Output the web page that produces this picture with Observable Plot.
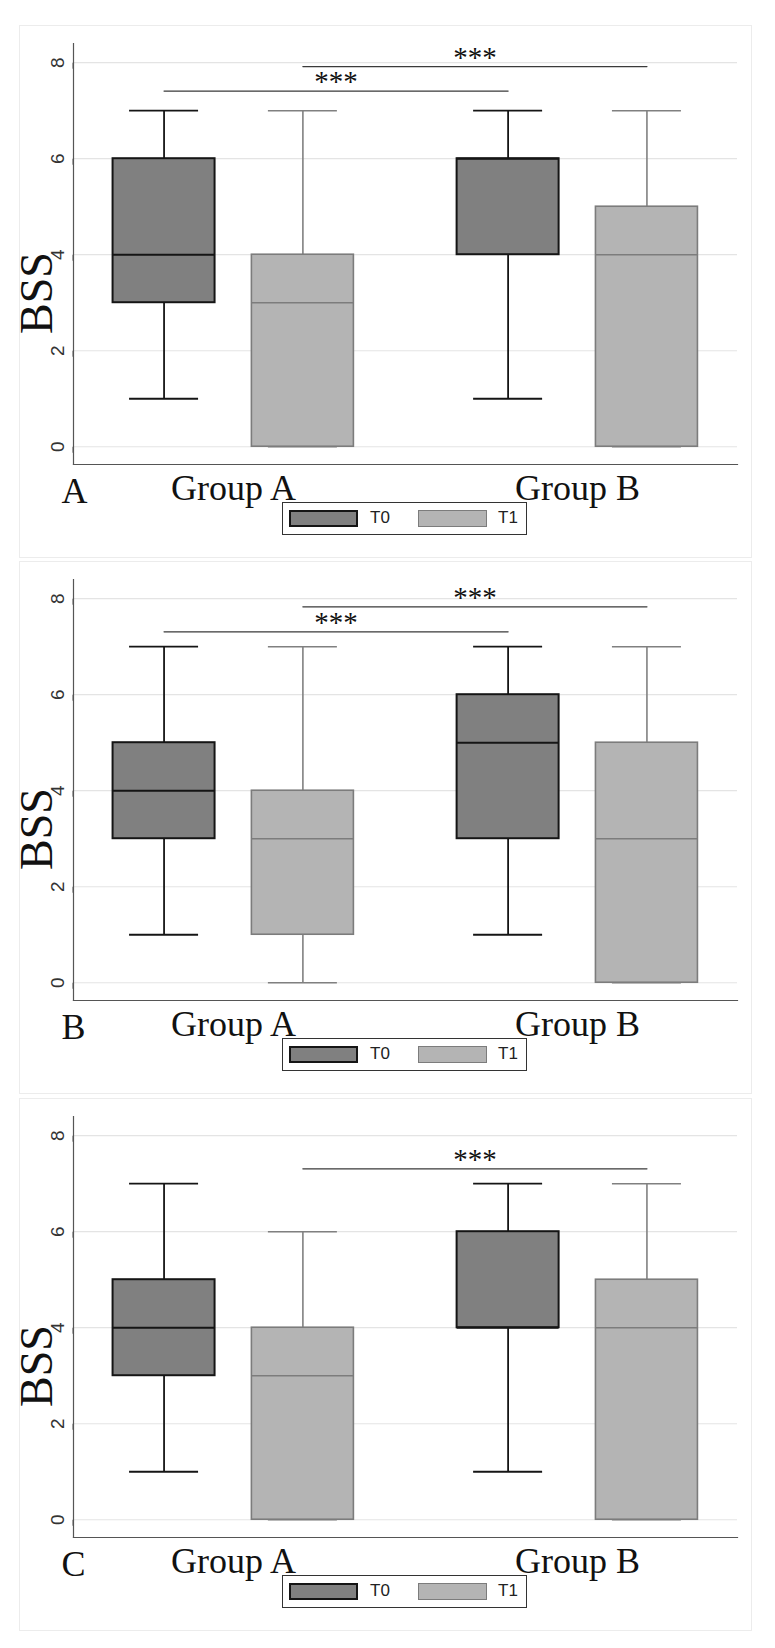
<!DOCTYPE html>
<html>
<head>
<meta charset="utf-8">
<script src="https://cdn.jsdelivr.net/npm/d3@7"></script>
<script src="https://cdn.jsdelivr.net/npm/@observablehq/plot@0.6"></script>
<style>
  body { margin: 0; background: #fff; }
  #page { position: relative; width: 775px; height: 1648px; overflow: hidden; }
  .panel { position: absolute; left: 0; width: 775px; height: 537px; }
  .panel svg { position: absolute; left: 0; top: 0; }
  .frame { position: absolute; left: 19px; top: 25px; width: 733px; height: 533px; border: 1.5px solid #ececec; box-sizing: border-box; }
  .ytitle { position: absolute; left: 37px; top: 293px; transform: translate(-50%, -50%) rotate(-90deg);
            font-family: "Liberation Serif", "Times New Roman", serif; font-size: 46px; line-height: 46px; color: #111; white-space: nowrap; }
  .legend { position: absolute; left: 282px; top: 502px; width: 245px; height: 33px; border: 1px solid #333; background: #fff; box-sizing: border-box;
            font-family: "Liberation Sans", Arial, sans-serif; font-size: 17px; color: #222; }
  .legend .sw { position: absolute; top: 7px; width: 69px; height: 17px; box-sizing: border-box; }
  .legend .lb { position: absolute; top: 5px; line-height: 20px; }
</style>
</head>
<body>
<div id="page"></div>
<script>
// ---------- data ----------
const panelLabels = ["A", "B", "C"];
const groups = ["Group A", "Group B"];
const times = ["T0", "T1"];
const yTicks = [0, 2, 4, 6, 8];
const yTitle = "BSS";
// order within each panel: Group A T0, Group A T1, Group B T0, Group B T1
const whiskerLow  = { A: [1, 0, 1, 0], B: [1, 0, 1, 0], C: [1, 0, 1, 0] };
const quartile1   = { A: [3, 0, 4, 0], B: [3, 1, 3, 0], C: [3, 0, 4, 0] };
const medians     = { A: [4, 3, 6, 4], B: [4, 3, 5, 3], C: [4, 3, 4, 4] };
const quartile3   = { A: [6, 4, 6, 5], B: [5, 4, 6, 5], C: [5, 4, 6, 5] };
const whiskerHigh = { A: [7, 7, 7, 7], B: [7, 7, 7, 7], C: [7, 6, 7, 7] };
// significance brackets: which time series they join across groups, and their height
const bracketTime = { A: ["T0", "T1"], B: ["T0", "T1"], C: ["T1"] };
const bracketY    = { A: [7.41, 7.92], B: [7.31, 7.83], C: [7.31] };
const bracketText = "***";

// ---------- layout ----------
const W = 775, H = 537;
const mLeft = 73, mRight = 38, mTop = 43, mBottom = 73;
const padInner = 0.3, padOuter = 0.115;
const step = (W - mLeft - mRight) / (groups.length - padInner + 2 * padOuter);
const bw = step * (1 - padInner);
const boxW = 102, capW = 69;
const boxInset = bw - boxW;
const half = bw / 2 - boxW / 2;
const panelTops = [0, 536.4, 1073];

const sty = {
  T0: { fill: "#808080", box: "#151515", boxW: 2, line: "#151515", lineW: 1.8, med: "#151515", medW: 2, dx: -half,
        insetL: 0, insetR: boxInset, capL: boxW / 2 - capW / 2, capR: bw - boxW / 2 - capW / 2 },
  T1: { fill: "#b4b4b4", box: "#7c7c7c", boxW: 1.6, line: "#808080", lineW: 1.6, med: "#7c7c7c", medW: 1.6, dx: half,
        insetL: boxInset, insetR: 0, capL: bw - boxW / 2 - capW / 2, capR: boxW / 2 - capW / 2 }
};

function rowsFor(p) {
  const rows = [];
  groups.forEach((g, gi) => times.forEach((t, ti) => {
    const k = gi * times.length + ti;
    rows.push({ group: g, time: t, low: whiskerLow[p][k], q1: quartile1[p][k], med: medians[p][k], q3: quartile3[p][k], high: whiskerHigh[p][k] });
  }));
  return rows;
}

function makePanel(p) {
  const rows = rowsFor(p);
  const marks = [
    Plot.gridY(yTicks, { stroke: "#e4e4e4", strokeOpacity: 1, strokeWidth: 1.2 })
  ];
  for (const t of times) {
    const d = rows.filter(r => r.time === t);
    const s = sty[t];
    marks.push(
      Plot.ruleX(d, { x: "group", y1: "low", y2: "q1", dx: s.dx, stroke: s.line, strokeWidth: s.lineW }),
      Plot.ruleX(d, { x: "group", y1: "q3", y2: "high", dx: s.dx, stroke: s.line, strokeWidth: s.lineW }),
      Plot.tickY(d, { x: "group", y: "low", insetLeft: s.capL, insetRight: s.capR, stroke: s.line, strokeWidth: s.lineW }),
      Plot.tickY(d, { x: "group", y: "high", insetLeft: s.capL, insetRight: s.capR, stroke: s.line, strokeWidth: s.lineW }),
      Plot.barY(d, { x: "group", y1: "q1", y2: "q3", insetLeft: s.insetL, insetRight: s.insetR, fill: s.fill, stroke: s.box, strokeWidth: s.boxW }),
      Plot.tickY(d, { x: "group", y: "med", insetLeft: s.insetL, insetRight: s.insetR, stroke: s.med, strokeWidth: s.medW })
    );
  }
  bracketTime[p].forEach((t, i) => {
    const yv = bracketY[p][i];
    const pts = groups.map(g => ({ group: g, y: yv }));
    marks.push(
      Plot.line(pts, { x: "group", y: "y", dx: sty[t].dx, stroke: "#3a3a3a", strokeWidth: 1.3 }),
      Plot.text([pts[0]], { x: "group", y: "y", text: () => bracketText, dx: step / 2 + sty[t].dx, dy: -9,
        fontSize: 29, fontFamily: "Liberation Serif, Times New Roman, serif", fill: "#111" })
    );
  });
  marks.push(
    Plot.frame({ anchor: "left", stroke: "#555", strokeWidth: 1.2 }),
    Plot.frame({ anchor: "bottom", stroke: "#555", strokeWidth: 1.2 }),
    Plot.axisY({ ticks: yTicks, tickSize: 6, tickPadding: 9.5, rotate: -90, textAnchor: "middle",
      fontSize: 19, fontFamily: "Liberation Sans, Arial, sans-serif", fill: "#333", stroke: "#555", label: null }),
    Plot.axisX({ tickSize: 0, tickPadding: 10, fontSize: 36, fontFamily: "Liberation Serif, Times New Roman, serif", fill: "#111", label: null }),
    Plot.text([p], { text: d => d, frameAnchor: "bottom-left", textAnchor: "start", dx: -12, dy: 38, fontSize: 36,
      fontFamily: "Liberation Serif, Times New Roman, serif", fill: "#111" })
  );
  return Plot.plot({
    width: W, height: H,
    marginLeft: mLeft, marginRight: mRight, marginTop: mTop, marginBottom: mBottom,
    style: { background: "transparent", overflow: "visible" },
    x: { type: "band", domain: groups, paddingInner: padInner, paddingOuter: padOuter, round: false, label: null },
    y: { domain: [-0.37, 8.40], label: null },
    marks
  });
}

const page = document.getElementById("page");
panelLabels.forEach((p, i) => {
  const div = document.createElement("div");
  div.className = "panel";
  div.style.top = panelTops[i] + "px";
  const frame = document.createElement("div");
  frame.className = "frame";
  div.appendChild(frame);
  div.appendChild(makePanel(p));
  const yt = document.createElement("div");
  yt.className = "ytitle";
  yt.textContent = yTitle;
  div.appendChild(yt);
  const lg = document.createElement("div");
  lg.className = "legend";
  lg.innerHTML =
    '<div class="sw" style="left:6px;background:' + sty.T0.fill + ';border:2px solid #151515"></div>' +
    '<div class="lb" style="left:87px">' + times[0] + '</div>' +
    '<div class="sw" style="left:135px;background:' + sty.T1.fill + ';border:1.5px solid #7c7c7c"></div>' +
    '<div class="lb" style="left:215px">' + times[1] + '</div>';
  div.appendChild(lg);
  page.appendChild(div);
});
</script>
</body>
</html>
